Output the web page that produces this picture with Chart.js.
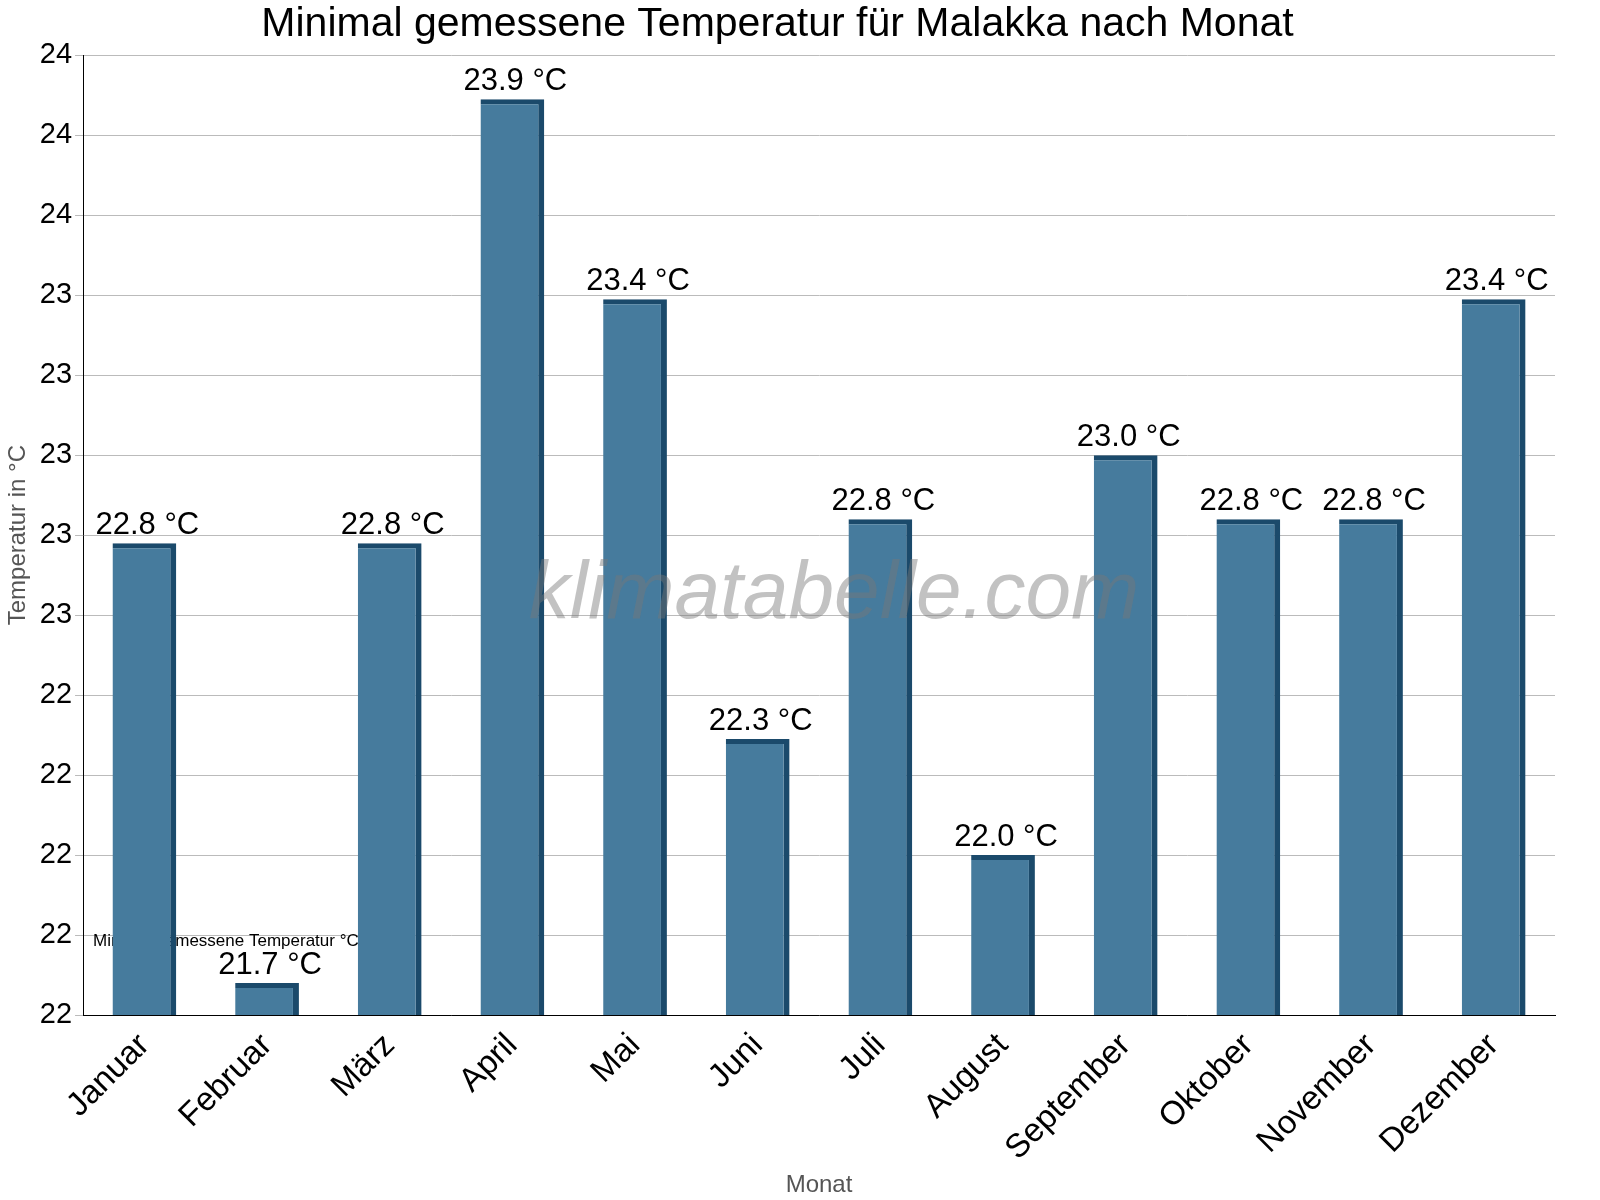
<!DOCTYPE html>
<html><head><meta charset="utf-8">
<script src="https://cdn.jsdelivr.net/npm/chart.js@4/dist/chart.umd.min.js"></script>
<style>html,body{margin:0;background:#fff}</style>
</head><body><canvas id="c" width="1600" height="1200" style="width:1600px;height:1200px"></canvas>
<script>
const months=["Januar","Februar","März","April","Mai","Juni","Juli","August","September","Oktober","November","Dezember"];
const minTemp=[22.78,21.68,22.78,23.89,23.39,22.29,22.84,22.0,23.0,22.84,22.84,23.39];
const labelVals=[22.8,21.7,22.8,23.9,23.4,22.3,22.8,22.0,23.0,22.8,22.8,23.4];
const seriesName="Minimal gemessene Temperatur °C";
const labelsPlugin={id:'lbl',afterDatasetsDraw(ch){const ctx=ch.ctx;const m=ch.getDatasetMeta(0);ctx.save();ctx.font='31px Arial, "Liberation Sans"';ctx.fillStyle='#000';ctx.textAlign='center';ctx.textBaseline='bottom';m.data.forEach((b,i)=>{ctx.fillText(labelVals[i].toFixed(1)+' °C',b.x+3,b.y-2);});
ctx.font='italic 82px Arial, "Liberation Sans"';ctx.fillStyle='rgba(120,120,120,0.45)';ctx.textBaseline='middle';const a=ch.chartArea;ctx.fillText('klimatabelle.com',(a.left+a.right)/2+15,(a.top+a.bottom)/2+60);ctx.restore();}};
new Chart(document.getElementById('c'),{type:'bar',
data:{labels:months,datasets:[{label:seriesName,data:minTemp,backgroundColor:'#467b9d',borderColor:'#1b4a6b',borderWidth:{top:5,right:6,left:0,bottom:0},borderSkipped:false,barPercentage:0.52,categoryPercentage:1}]},
options:{responsive:false,animation:false,devicePixelRatio:1,
layout:{padding:{right:45,top:0}},
plugins:{title:{display:true,text:'Minimal gemessene Temperatur für Malakka nach Monat',font:{size:41,family:'Arial, "Liberation Sans"',weight:'normal'},color:'#000',padding:{top:0,bottom:6}},
legend:{position:'chartArea',align:'end',labels:{font:{size:17,family:'Arial'},color:'#000',boxWidth:12,boxHeight:14},rtl:true},tooltip:{enabled:false}},
scales:{y:{min:21.6,max:24.0,ticks:{stepSize:0.2,font:{size:29,family:'Arial'},color:'#000',callback:v=>Math.round(v).toString()},grid:{color:'#bbb',borderDash:[2,3],tickLength:8},border:{color:'#000'},title:{display:true,text:'Temperatur in °C',font:{size:24,family:'Arial'},color:'#555'}},
x:{ticks:{font:{size:33,family:'Arial'},color:'#000',maxRotation:45,minRotation:45},grid:{display:false},border:{color:'#000'},title:{display:true,text:'Monat',font:{size:24,family:'Arial'},color:'#555',padding:0}}}},
plugins:[labelsPlugin]});
</script></body></html>
